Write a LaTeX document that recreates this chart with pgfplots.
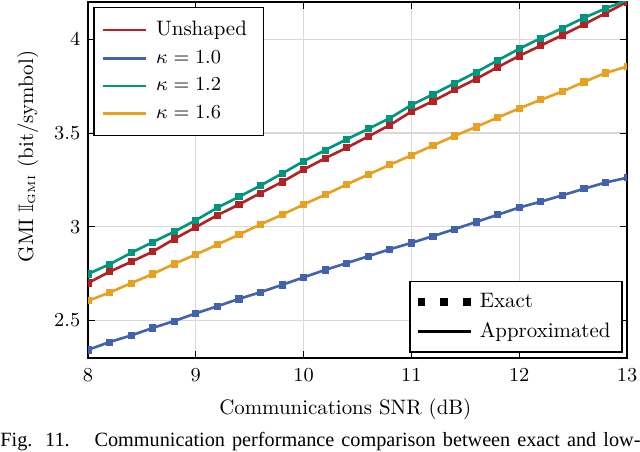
\documentclass[border=0pt]{standalone}
\usepackage{fontspec}
\newfontfamily\capfont{Liberation Serif}
\usepackage{amssymb}
\usepackage{pgfplots}
\usepackage{pgfplotstable}
\pgfplotsset{compat=1.18}

\definecolor{cUns}{RGB}{178,34,36}
\definecolor{cKa}{RGB}{66,98,172}
\definecolor{cKb}{RGB}{0,150,125}
\definecolor{cKc}{RGB}{232,160,32}

\newcommand{\figfont}{\fontsize{9.5}{11.5}\selectfont}

% GMI in bit/symbol
\pgfplotstableread{
snr  uns   k10   k12   k16
8.0  2.700 2.343 2.748 2.605
8.2  2.760 2.385 2.800 2.649
8.4  2.813 2.420 2.861 2.699
8.6  2.867 2.460 2.918 2.748
8.8  2.935 2.497 2.974 2.802
9.0  2.998 2.538 3.035 2.852
9.2  3.062 2.576 3.102 2.905
9.4  3.119 2.615 3.160 2.958
9.6  3.180 2.651 3.220 3.013
9.8  3.239 2.690 3.284 3.064
10.0 3.305 2.730 3.350 3.119
10.2 3.366 2.770 3.409 3.171
10.4 3.422 2.806 3.467 3.226
10.6 3.482 2.843 3.523 3.279
10.8 3.543 2.880 3.580 3.331
11.0 3.615 2.914 3.650 3.382
11.2 3.671 2.950 3.707 3.434
11.4 3.731 2.987 3.766 3.485
11.6 3.789 3.026 3.825 3.533
11.8 3.852 3.064 3.888 3.583
12.0 3.912 3.103 3.950 3.632
12.2 3.967 3.134 4.007 3.678
12.4 4.023 3.168 4.060 3.722
12.6 4.080 3.203 4.115 3.773
12.8 4.140 3.236 4.165 3.821
13.0 4.200 3.262 4.210 3.855
}\gmi

\pgfplotsset{
  base/.style={
    scale only axis, width=245pt, height=161.8pt,
    xmin=8, xmax=13, ymin=2.3, ymax=4.2,
  },
  exact/.style={only marks, mark=square*, mark size=1.4pt, forget plot},
  approx/.style={line width=1.2pt},
}

\begin{document}
\begin{tikzpicture}
\begin{axis}[base, name=main,
  xtick={8,9,10,11,12,13}, ytick={2.5,3,3.5,4},
  grid=major, grid style={gray!30, line width=0.6pt},
  axis line style={line width=1.1pt},
  major tick length=3pt,
  tick style={black, line width=0.5pt},
  tick label style={font=\figfont},
  xticklabel style={yshift=-1.5pt},
  label style={font=\figfont},
  xlabel={Communications SNR (dB)},
  xlabel style={at={(axis description cs:0.4774,-0.1576)}, anchor=base},
  ylabel={GMI $\mathbb{I}_{\scriptscriptstyle\mathrm{GMI}}$ (bit/symbol)},
  ylabel style={at={(axis description cs:-0.102,0.566)}, anchor=base},
  clip marker paths=true,
  legend cell align=left,
  legend style={font=\figfont, at={(0,1)}, anchor=north west,
    xshift=2.4pt, yshift=-2.1pt, draw=black, line width=0.6pt,
    row sep=1.2pt, inner xsep=3.4pt, inner ysep=4.3pt,
    nodes={inner xsep=4.2pt}},
  legend image code/.code={\draw[#1, line width=1.2pt] (0pt,0pt) -- (19.5pt,0pt);},
]
\addplot[cUns, exact] table[x=snr, y=uns] {\gmi};
\addplot[cUns, approx] table[x=snr, y=uns] {\gmi};
\addlegendentry{Unshaped}
\addplot[cKa, exact] table[x=snr, y=k10] {\gmi};
\addplot[cKa, approx] table[x=snr, y=k10] {\gmi};
\addlegendentry{$\kappa = 1.0$}
\addplot[cKb, exact] table[x=snr, y=k12] {\gmi};
\addplot[cKb, approx] table[x=snr, y=k12] {\gmi};
\addlegendentry{$\kappa = 1.2$}
\addplot[cKc, exact] table[x=snr, y=k16] {\gmi};
\addplot[cKc, approx] table[x=snr, y=k16] {\gmi};
\addlegendentry{$\kappa = 1.6$}
\end{axis}

% second legend: marker / line meaning
\begin{axis}[base, hide axis,
  legend cell align=left,
  legend style={font=\figfont, at={(1,0)}, anchor=south east,
    xshift=-2pt, yshift=2.4pt, draw=black, line width=0.6pt,
    row sep=1.2pt, inner xsep=3.2pt, inner ysep=3.3pt,
    column sep=1.4pt},
]
\addlegendimage{black, legend image code/.code={
  \draw[black, mark=square*, mark size=1.5pt, only marks]
    plot coordinates {(1.5pt,0pt) (11.8pt,0pt) (22.1pt,0pt)};}}
\addlegendentry{Exact}
\addlegendimage{black, legend image code/.code={
  \draw[black, line width=1.2pt] (0pt,0pt) -- (24pt,0pt);}}
\addlegendentry{Approximated}
\end{axis}

\pgfresetboundingbox
\path[use as bounding box] ([xshift=-40pt,yshift=-42.3pt]main.south west)
  rectangle ([xshift=5.9pt,yshift=0.9pt]main.north east);
\node[anchor=base west, inner sep=0pt, font=\capfont\fontsize{9.2}{11}\selectfont]
  at ([xshift=-40pt,yshift=-40.3pt]main.south west)
  {\makebox[290.9pt][s]{Fig. 11.\hspace{0.6em} Communication performance comparison between exact and low-}};
\end{tikzpicture}
\end{document}
